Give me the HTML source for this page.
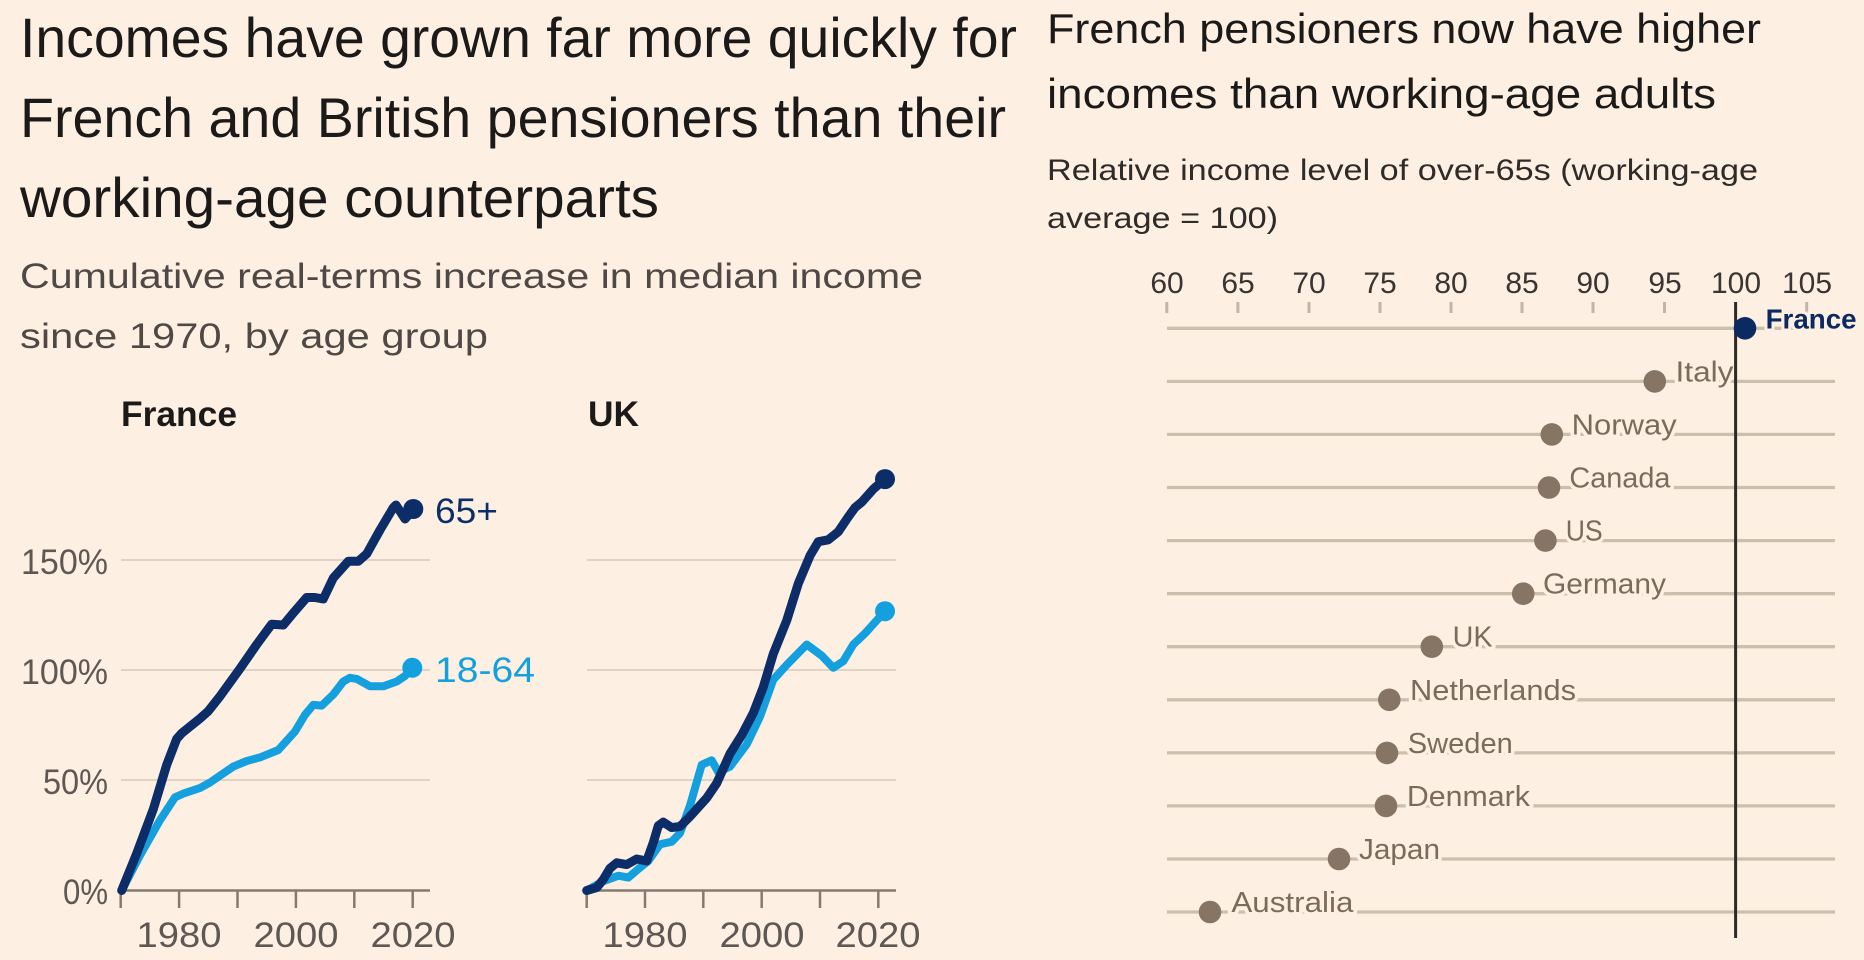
<!DOCTYPE html>
<html><head><meta charset="utf-8"><style>
html,body{margin:0;padding:0;background:#fdf0e3;width:1864px;height:960px;overflow:hidden}
svg{display:block}
</style></head><body>
<svg width="1864" height="960" viewBox="0 0 1864 960" font-family="'Liberation Sans', Arial, sans-serif">
<rect width="1864" height="960" fill="#fdf0e3"/>

<!-- Left title -->
<g fill="#1c1a19" font-size="56">
<text x="20" y="57" textLength="997" lengthAdjust="spacingAndGlyphs">Incomes have grown far more quickly for</text>
<text x="20" y="137" textLength="986" lengthAdjust="spacingAndGlyphs">French and British pensioners than their</text>
<text x="20" y="217" textLength="639" lengthAdjust="spacingAndGlyphs">working-age counterparts</text>
</g>
<g fill="#4f4845" font-size="35">
<text x="20" y="288" textLength="903" lengthAdjust="spacingAndGlyphs">Cumulative real-terms increase in median income</text>
<text x="20" y="348" textLength="468" lengthAdjust="spacingAndGlyphs">since 1970, by age group</text>
</g>

<!-- Right title -->
<g fill="#1c1a19" font-size="42">
<text x="1047" y="43" textLength="714" lengthAdjust="spacingAndGlyphs">French pensioners now have higher</text>
<text x="1047" y="108" textLength="669" lengthAdjust="spacingAndGlyphs">incomes than working-age adults</text>
</g>
<g fill="#2f2b29" font-size="30">
<text x="1047" y="180" textLength="711" lengthAdjust="spacingAndGlyphs">Relative income level of over-65s (working-age</text>
<text x="1047" y="228" textLength="231" lengthAdjust="spacingAndGlyphs">average = 100)</text>
</g>

<!-- Panel labels -->
<g fill="#1c1a19" font-size="35" font-weight="bold">
<text x="121" y="426" textLength="116" lengthAdjust="spacingAndGlyphs">France</text>
<text x="588" y="426" textLength="51" lengthAdjust="spacingAndGlyphs">UK</text>
</g>

<!-- Y labels -->
<g fill="#5e5753" font-size="35" text-anchor="end">
<text x="108" y="574" textLength="87" lengthAdjust="spacingAndGlyphs">150%</text>
<text x="108" y="684" textLength="87" lengthAdjust="spacingAndGlyphs">100%</text>
<text x="108" y="794" textLength="65" lengthAdjust="spacingAndGlyphs">50%</text>
<text x="108" y="904" textLength="45" lengthAdjust="spacingAndGlyphs">0%</text>
</g>

<!-- Left gridlines -->
<g stroke="#e0d3c6" stroke-width="2">
<line x1="121" y1="560" x2="430" y2="560"/>
<line x1="121" y1="670" x2="430" y2="670"/>
<line x1="121" y1="780" x2="430" y2="780"/>
<line x1="587" y1="560" x2="896" y2="560"/>
<line x1="587" y1="670" x2="896" y2="670"/>
<line x1="587" y1="780" x2="896" y2="780"/>
</g>
<!-- Axes -->
<g stroke="#857a72" stroke-width="2.5">
<line x1="121" y1="890.5" x2="430" y2="890.5"/>
<line x1="587" y1="890.5" x2="896" y2="890.5"/>
<line x1="120.7" y1="891" x2="120.7" y2="908"/>
<line x1="179.1" y1="891" x2="179.1" y2="908"/>
<line x1="237.5" y1="891" x2="237.5" y2="908"/>
<line x1="295.9" y1="891" x2="295.9" y2="908"/>
<line x1="354.3" y1="891" x2="354.3" y2="908"/>
<line x1="412.7" y1="891" x2="412.7" y2="908"/>
<line x1="586.7" y1="891" x2="586.7" y2="908"/>
<line x1="645" y1="891" x2="645" y2="908"/>
<line x1="703.3" y1="891" x2="703.3" y2="908"/>
<line x1="761.7" y1="891" x2="761.7" y2="908"/>
<line x1="820" y1="891" x2="820" y2="908"/>
<line x1="878.3" y1="891" x2="878.3" y2="908"/>
</g>
<g fill="#5e5753" font-size="35" text-anchor="middle">
<text x="179" y="947" textLength="85" lengthAdjust="spacingAndGlyphs">1980</text>
<text x="296" y="947" textLength="85" lengthAdjust="spacingAndGlyphs">2000</text>
<text x="413" y="947" textLength="85" lengthAdjust="spacingAndGlyphs">2020</text>
<text x="645" y="947" textLength="85" lengthAdjust="spacingAndGlyphs">1980</text>
<text x="762" y="947" textLength="85" lengthAdjust="spacingAndGlyphs">2000</text>
<text x="878" y="947" textLength="85" lengthAdjust="spacingAndGlyphs">2020</text>
</g>

<!-- France series -->
<g fill="none" stroke-linejoin="round" stroke-linecap="round">
<polyline stroke="#14a0de" stroke-width="8" points="121.7,890.5 140,855.4 160,820.2 175,797.3 183.3,793.6 200,788 210,782.5 233.3,766.6 246.7,761 260,757.4 278.3,750 295,731.5 305,714.8 313.3,704.8 321.7,705.6 333.3,694.5 343.3,681.5 350,677.8 356.7,678.9 370,686.3 383.3,686.3 396.7,681.5 405,676 412.3,667.8"/>
<polyline stroke="#0c2d67" stroke-width="9" points="121.7,890.5 136.7,853.5 153.3,809.2 166.7,764.8 176.7,738.9 181.7,733.3 200,718.5 208.3,711.1 220,696.3 240,668.6 256.7,644.5 271.7,624.2 283.3,625 293.3,613 306.7,597.5 315,597.5 323.3,599 333.3,578 348.3,561.3 358.3,561.3 366.7,553.9 380,530 393.3,507.6 396,505 405,519 413.3,509.5"/>
</g>
<circle cx="412.3" cy="667.8" r="10" fill="#14a0de"/>
<circle cx="413.3" cy="509" r="10" fill="#0c2d67"/>
<text x="435" y="523" fill="#0c2d67" font-size="35" textLength="63" lengthAdjust="spacingAndGlyphs">65+</text>
<text x="435" y="682" fill="#14a0de" font-size="35" textLength="100" lengthAdjust="spacingAndGlyphs">18-64</text>

<!-- UK series -->
<g fill="none" stroke-linejoin="round" stroke-linecap="round">
<polyline stroke="#14a0de" stroke-width="8" points="586.7,890.5 603.3,881.3 618.3,875.7 628.3,877.6 640,867.6 648.3,861 660,844.3 671.7,841.7 680,833.2 690,805.5 701.7,764.8 711.7,760.3 718.3,772.2 730,766.6 746.7,744.4 760,716.7 773.3,679.7 786.7,664.9 806.7,644.5 821.7,655.6 833.3,667.8 843.3,661.2 853.3,644.5 865,633.4 875,622.3 885,611.2"/>
<polyline stroke="#0c2d67" stroke-width="9" points="586.7,890.5 596.7,887.6 603.3,879.4 610,868.3 616.7,862.8 626.7,864.6 636.7,859 646.7,861 653.3,842.5 658.3,825.8 663.3,822.1 671.7,827.6 680,826.5 690,816.5 706.7,798 716.7,783.3 730,753.7 741.7,735.2 753.3,713 763.3,687.1 773.3,653.8 786.7,620.5 798.3,583.5 810,555.7 818.3,541.7 828.3,539.8 838.3,531.7 848.3,516.9 855,507.6 861.7,502.1 873.3,489.1 885,479.1"/>
</g>
<circle cx="885" cy="611.2" r="10" fill="#14a0de"/>
<circle cx="885" cy="479.1" r="10" fill="#0c2d67"/>

<!-- Right chart axis -->
<g fill="#3a3532" font-size="30" text-anchor="middle">
<text x="1167" y="293">60</text>
<text x="1238" y="293">65</text>
<text x="1309" y="293">70</text>
<text x="1380" y="293">75</text>
<text x="1451" y="293">80</text>
<text x="1522" y="293">85</text>
<text x="1593" y="293">90</text>
<text x="1665" y="293">95</text>
<text x="1736" y="293">100</text>
<text x="1807" y="293">105</text>
</g>
<g stroke="#c2b5a7" stroke-width="3">
<line x1="1166.8" y1="302" x2="1166.8" y2="313"/>
<line x1="1237.9" y1="302" x2="1237.9" y2="313"/>
<line x1="1309" y1="302" x2="1309" y2="313"/>
<line x1="1380" y1="302" x2="1380" y2="313"/>
<line x1="1451" y1="302" x2="1451" y2="313"/>
<line x1="1522" y1="302" x2="1522" y2="313"/>
<line x1="1593" y1="302" x2="1593" y2="313"/>
<line x1="1664.5" y1="302" x2="1664.5" y2="313"/>
<line x1="1806.7" y1="302" x2="1806.7" y2="313"/>
</g>

<!-- Row gridlines -->
<g stroke="#cdbfae" stroke-width="3.3">
<line x1="1167" y1="328.3" x2="1835" y2="328.3"/>
<line x1="1167" y1="381.4" x2="1835" y2="381.4"/>
<line x1="1167" y1="434.4" x2="1835" y2="434.4"/>
<line x1="1167" y1="487.5" x2="1835" y2="487.5"/>
<line x1="1167" y1="540.6" x2="1835" y2="540.6"/>
<line x1="1167" y1="593.7" x2="1835" y2="593.7"/>
<line x1="1167" y1="646.7" x2="1835" y2="646.7"/>
<line x1="1167" y1="699.8" x2="1835" y2="699.8"/>
<line x1="1167" y1="752.9" x2="1835" y2="752.9"/>
<line x1="1167" y1="805.9" x2="1835" y2="805.9"/>
<line x1="1167" y1="859" x2="1835" y2="859"/>
<line x1="1167" y1="912" x2="1835" y2="912"/>
</g>

<!-- Country labels -->
<g fill="#7a6b5c" font-size="29" stroke="#fdf0e3" stroke-width="7" paint-order="stroke" stroke-linejoin="round">
<text x="1675.5" y="381.4" textLength="58" lengthAdjust="spacingAndGlyphs">Italy</text>
<text x="1571.7" y="434.4" textLength="105" lengthAdjust="spacingAndGlyphs">Norway</text>
<text x="1569.4" y="487.5" textLength="101" lengthAdjust="spacingAndGlyphs">Canada</text>
<text x="1565.7" y="540.6" textLength="37" lengthAdjust="spacingAndGlyphs">US</text>
<text x="1543" y="593.7" textLength="123" lengthAdjust="spacingAndGlyphs">Germany</text>
<text x="1452.6" y="646.7" textLength="40" lengthAdjust="spacingAndGlyphs">UK</text>
<text x="1410" y="699.8" textLength="166" lengthAdjust="spacingAndGlyphs">Netherlands</text>
<text x="1407.8" y="752.9" textLength="105" lengthAdjust="spacingAndGlyphs">Sweden</text>
<text x="1406.9" y="805.9" textLength="123" lengthAdjust="spacingAndGlyphs">Denmark</text>
<text x="1359" y="859" textLength="81" lengthAdjust="spacingAndGlyphs">Japan</text>
<text x="1231.4" y="912" textLength="122" lengthAdjust="spacingAndGlyphs">Australia</text>
</g>

<!-- Dots -->
<g fill="#867565">
<circle cx="1654.8" cy="381.4" r="11.3"/>
<circle cx="1551.8" cy="434.4" r="11.3"/>
<circle cx="1549" cy="487.5" r="11.3"/>
<circle cx="1545.4" cy="540.6" r="11.3"/>
<circle cx="1523.2" cy="593.7" r="11.3"/>
<circle cx="1431.8" cy="646.7" r="11.3"/>
<circle cx="1389.3" cy="699.8" r="11.3"/>
<circle cx="1387" cy="752.9" r="11.3"/>
<circle cx="1386" cy="805.9" r="11.3"/>
<circle cx="1339" cy="859" r="11.3"/>
<circle cx="1210" cy="912" r="11.3"/>
</g>

<!-- 100 line -->
<line x1="1735.6" y1="302" x2="1735.6" y2="938" stroke="#2c2927" stroke-width="3"/>

<!-- France -->
<circle cx="1745" cy="328.3" r="11.3" fill="#0c2a62"/>
<text x="1765.6" y="328.3" fill="#0c2a62" font-size="28" font-weight="bold" textLength="91" lengthAdjust="spacingAndGlyphs" stroke="#fdf0e3" stroke-width="6" paint-order="stroke">France</text>
</svg>
</body></html>
